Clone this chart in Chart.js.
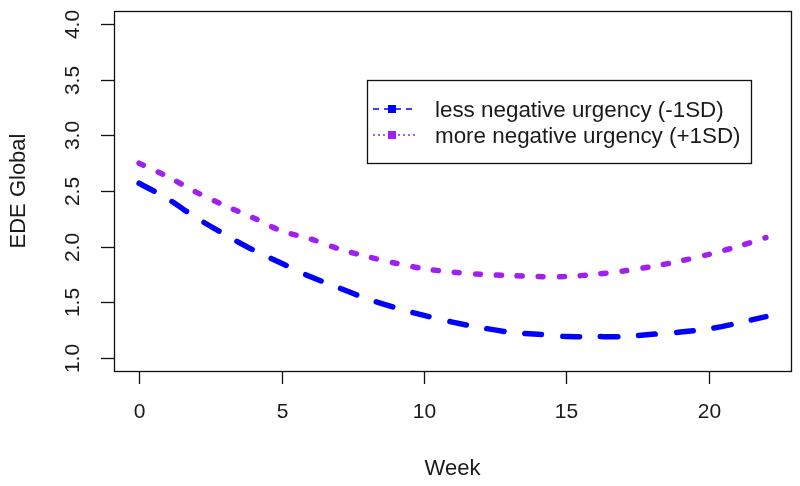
<!DOCTYPE html>
<html>
<head>
<meta charset="utf-8">
<script src="https://cdn.jsdelivr.net/npm/chart.js@4.4.0/dist/chart.umd.min.js"></script>
<style>
  html, body { margin: 0; padding: 0; background: #fff; }
  canvas { display: block; }
</style>
</head>
<body>
<canvas id="myChart" width="800" height="486"></canvas>
<script>
const weeks = [0, 1, 2, 3, 4, 5, 6, 7, 8, 9, 10, 11, 12, 13, 14, 15, 16, 17, 18, 19, 20, 21, 22];
const lessNeg = [2.57, 2.43, 2.26, 2.11, 1.97, 1.85, 1.73, 1.63, 1.53, 1.45, 1.38, 1.32, 1.27, 1.23, 1.21, 1.19, 1.19, 1.19, 1.21, 1.23, 1.26, 1.31, 1.37];
const moreNeg = [2.75, 2.63, 2.49, 2.37, 2.26, 2.14, 2.07, 1.98, 1.91, 1.85, 1.80, 1.77, 1.75, 1.74, 1.73, 1.73, 1.75, 1.78, 1.82, 1.87, 1.93, 2.00, 2.08];
const seriesNames = ["less negative urgency (-1SD)", "more negative urgency (+1SD)"];
const xTicks = [0, 5, 10, 15, 20];
const yTicks = [1.0, 1.5, 2.0, 2.5, 3.0, 3.5, 4.0];
const xTitle = "Week";
const yTitle = "EDE Global";

const font = "'Liberation Sans', Arial, sans-serif";
const textColor = "#1a1a1a";

function points(ys) {
  let out = [];
  for (let i = 0; i < weeks.length; i++) {
    out.push({ x: weeks[i], y: ys[i] });
  }
  return out;
}

// R-style box, ticks and labels, plus the legend inside the plot
const baseAxes = {
  id: "baseAxes",
  afterDraw(chart) {
    const c = chart.ctx;
    const a = chart.chartArea;
    const xs = chart.scales.x;
    const ys = chart.scales.y;
    c.save();
    c.strokeStyle = "#111";
    c.lineWidth = 1.3;
    c.strokeRect(a.left + 0.5, a.top + 0.5, a.right - a.left, a.bottom - a.top);

    c.fillStyle = textColor;
    c.font = "21px " + font;
    c.textAlign = "center";
    c.textBaseline = "middle";
    for (let v of xTicks) {
      const px = Math.round(xs.getPixelForValue(v)) + 0.5;
      c.beginPath();
      c.moveTo(px, a.bottom);
      c.lineTo(px, a.bottom + 13);
      c.stroke();
      c.fillText(String(v), px, 412);
    }
    for (let v of yTicks) {
      const py = Math.round(ys.getPixelForValue(v)) + 0.5;
      c.beginPath();
      c.moveTo(a.left - 13, py);
      c.lineTo(a.left, py);
      c.stroke();
      c.save();
      c.translate(73, py);
      c.rotate(-Math.PI / 2);
      c.fillText(v.toFixed(1), 0, 0);
      c.restore();
    }

    c.font = "22px " + font;
    c.fillText(xTitle, (a.left + a.right) / 2, 469);
    c.save();
    c.translate(19, (a.top + a.bottom) / 2);
    c.rotate(-Math.PI / 2);
    c.fillText(yTitle, 0, 0);
    c.restore();

    // legend
    c.fillStyle = "#fff";
    c.fillRect(367, 80, 384, 83);
    c.strokeRect(367.5, 80.5, 384, 83);
    const rows = [109, 135];
    const dashes = [[6, 5], [2, 3]];
    chart.data.datasets.forEach(function (ds, i) {
      const y = rows[i];
      c.strokeStyle = ds.borderColor;
      c.lineWidth = 1.5;
      c.setLineDash(dashes[i]);
      c.beginPath();
      c.moveTo(373, y);
      c.lineTo(415, y);
      c.stroke();
      c.setLineDash([]);
      c.fillStyle = ds.borderColor;
      c.fillRect(388, y - 4, 8, 8);
      c.fillStyle = textColor;
      c.font = "22.4px " + font;
      c.textAlign = "left";
      c.fillText(ds.label, 435, y + 2);
    });
    c.restore();
  },
};

const ctx = document.getElementById("myChart");

new Chart(ctx, {
  type: "line",
  data: {
    datasets: [
      {
        label: seriesNames[0],
        data: points(lessNeg),
        borderColor: "#0000ff",
        borderWidth: 5.5,
        borderDash: [17, 21],
        borderCapStyle: "round",
        pointRadius: 0,
        tension: 0.3,
      },
      {
        label: seriesNames[1],
        data: points(moreNeg),
        borderColor: "#a020f0",
        borderWidth: 5.5,
        borderDash: [5, 16],
        borderCapStyle: "round",
        pointRadius: 0,
        tension: 0.3,
      },
    ],
  },
  options: {
    responsive: false,
    animation: false,
    layout: {
      padding: { left: 114, right: 9, top: 11, bottom: 115 },
    },
    plugins: {
      legend: { display: false },
      tooltip: { enabled: false },
    },
    scales: {
      x: { type: "linear", min: -0.88, max: 22.88, display: false },
      y: { type: "linear", min: 0.88, max: 4.12, display: false },
    },
  },
  plugins: [baseAxes],
});
</script>
</body>
</html>
